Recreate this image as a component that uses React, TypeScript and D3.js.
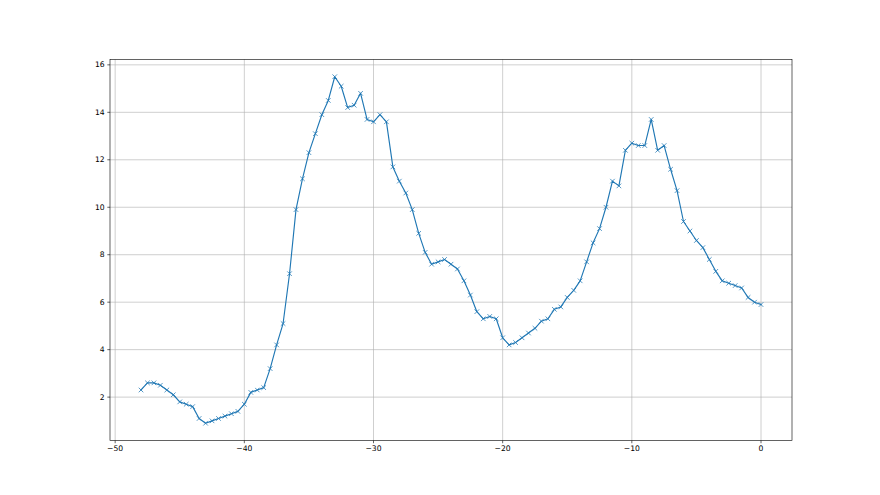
import React from "react";
import * as d3 from "d3";

const xStart = -48;
const xStep = 0.5;
const yValues: number[] = [
  2.3, 2.6, 2.6, 2.5, 2.3, 2.1, 1.8, 1.7, 1.6, 1.1, 0.9, 1.0, 1.1, 1.2, 1.3, 1.4,
  1.7, 2.2, 2.3, 2.4, 3.2, 4.2, 5.1, 7.2, 9.9, 11.2, 12.3, 13.1, 13.9, 14.5, 15.5, 15.1,
  14.2, 14.3, 14.8, 13.7, 13.6, 13.9, 13.6, 11.7, 11.1, 10.6, 9.9, 8.9, 8.1, 7.6, 7.7,
  7.8, 7.6, 7.4, 6.9, 6.3, 5.6, 5.3, 5.4, 5.3, 4.5, 4.2, 4.3,
  4.5, 4.7, 4.9, 5.2, 5.3, 5.7, 5.8, 6.2, 6.5, 6.9, 7.7, 8.5, 9.1, 10.0, 11.1, 10.9,
  12.4, 12.7, 12.6, 12.6, 13.7, 12.4, 12.6, 11.6, 10.7, 9.4, 9.0, 8.6, 8.3, 7.8, 7.3,
  6.9, 6.8, 6.7, 6.6, 6.2, 6.0, 5.9,
];
const xValues: number[] = yValues.map((_, i) => xStart + i * xStep);
const xTicks: number[] = [-50, -40, -30, -20, -10, 0];
const yTicks: number[] = [2, 4, 6, 8, 10, 12, 14, 16];

const W = 880;
const H = 495;
const pt = 55 / 72;

export default function App() {
  const left = W * 0.125;
  const right = W * 0.9;
  const top = H * 0.12;
  const bottom = H * 0.89;

  const xMin = d3.min(xValues)!;
  const xMax = d3.max(xValues)!;
  const yMin = d3.min(yValues)!;
  const yMax = d3.max(yValues)!;
  const xm = (xMax - xMin) * 0.05;
  const ym = (yMax - yMin) * 0.05;

  const x = d3.scaleLinear().domain([xMin - xm, xMax + xm]).range([left, right]);
  const y = d3.scaleLinear().domain([yMin - ym, yMax + ym]).range([bottom, top]);

  const line = d3
    .line<number>()
    .x((_, i) => x(xValues[i]))
    .y((d) => y(d));

  const ms = 3 * pt; // half marker size
  const fontSize = 10 * pt;
  const tickLen = 3.5 * pt;
  const blue = "#1f77b4";

  return (
    <svg
      width={W}
      height={H}
      style={{ position: "absolute", left: 0, top: 0, background: "#fff" }}
      fontFamily="DejaVu Sans"
    >
      <rect x={0} y={0} width={W} height={H} fill="#fff" />
      {/* grid */}
      {xTicks.map((t) => (
        <line
          key={"gx" + t}
          x1={x(t)}
          x2={x(t)}
          y1={top}
          y2={bottom}
          stroke="#b0b0b0"
          strokeWidth={0.8 * pt}
        />
      ))}
      {yTicks.map((t) => (
        <line
          key={"gy" + t}
          x1={left}
          x2={right}
          y1={y(t)}
          y2={y(t)}
          stroke="#b0b0b0"
          strokeWidth={0.8 * pt}
        />
      ))}
      {/* line */}
      <path d={line(yValues) || ""} fill="none" stroke={blue} strokeWidth={1.5 * pt} strokeLinejoin="round" strokeLinecap="square" />
      {/* markers */}
      {yValues.map((v, i) => {
        const cx = x(xValues[i]);
        const cy = y(v);
        return (
          <path
            key={"m" + i}
            d={`M${cx - ms},${cy - ms}L${cx + ms},${cy + ms}M${cx - ms},${cy + ms}L${cx + ms},${cy - ms}`}
            stroke={blue}
            strokeWidth={1 * pt}
            fill="none"
          />
        );
      })}
      {/* spines */}
      <rect x={left} y={top} width={right - left} height={bottom - top} fill="none" stroke="#000" strokeWidth={0.8 * pt} />
      {/* x ticks */}
      {xTicks.map((t) => (
        <g key={"xt" + t}>
          <line x1={x(t)} x2={x(t)} y1={bottom} y2={bottom + tickLen} stroke="#000" strokeWidth={0.8 * pt} />
          <text x={x(t)} y={bottom + tickLen + 3.5 * pt} fontSize={fontSize} textAnchor="middle" dominantBaseline="hanging" fill="#000">
            {t < 0 ? "\u2212" + Math.abs(t) : String(t)}
          </text>
        </g>
      ))}
      {/* y ticks */}
      {yTicks.map((t) => (
        <g key={"yt" + t}>
          <line x1={left - tickLen} x2={left} y1={y(t)} y2={y(t)} stroke="#000" strokeWidth={0.8 * pt} />
          <text x={left - tickLen - 3.5 * pt} y={y(t)} fontSize={fontSize} textAnchor="end" dominantBaseline="central" fill="#000">
            {String(t)}
          </text>
        </g>
      ))}
    </svg>
  );
}
